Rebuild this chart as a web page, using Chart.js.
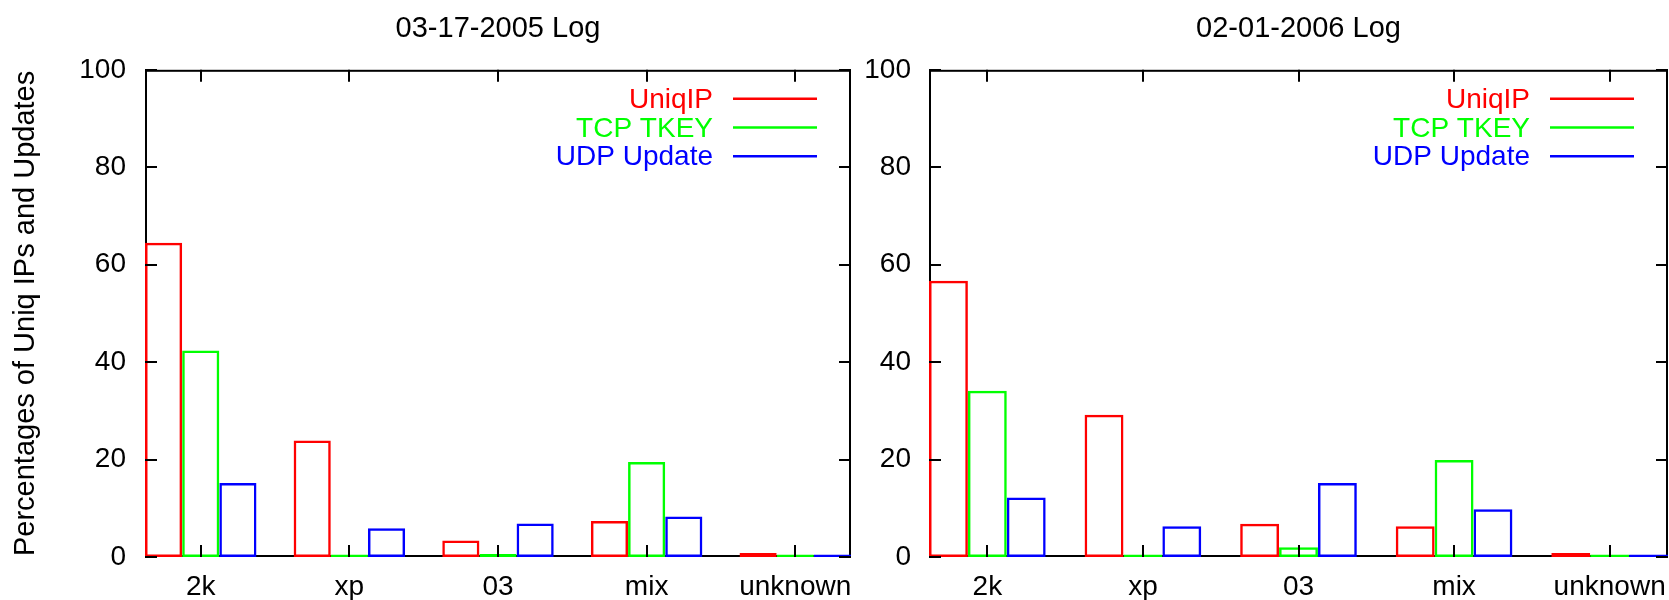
<!DOCTYPE html>
<html>
<head>
<meta charset="utf-8">
<script src="https://cdn.jsdelivr.net/npm/chart.js@4"></script>
<style>
  body { margin: 0; background: #fff; }
  .box { position: absolute; top: 0; height: 600px; }
  #left { left: 0; width: 855px; }
  #right { left: 855px; width: 814px; }
</style>
</head>
<body>
<div class="box" id="left"><canvas id="chartLeft"></canvas></div>
<div class="box" id="right"><canvas id="chartRight"></canvas></div>
<script>
// categories and tick labels
var categories = ['2k', 'xp', '03', 'mix', 'unknown'];
var yTickValues = [0, 20, 40, 60, 80, 100];
var seriesNames = ['UniqIP', 'TCP TKEY', 'UDP Update'];
var seriesColors = ['#ff0000', '#00ff00', '#0000ff'];

// 03-17-2005 log
var uniq2005 = [64.5, 23.9, 3.4, 7.4, 0.8];
var tkey2005 = [42.4, 0.2, 0.6, 19.5, 0.2];
var udp2005 = [15.2, 5.9, 6.9, 8.3, 0.1];

// 02-01-2006 log
var uniq2006 = [56.7, 29.2, 6.8, 6.3, 0.8];
var tkey2006 = [34.1, 0.2, 2.0, 19.9, 0.2];
var udp2006 = [12.2, 6.3, 15.2, 9.8, 0.1];

var FONT = "'Liberation Sans', Arial, sans-serif";

function points(values) {
  return values.map(function (v, i) { return { x: i, y: v }; });
}

// gnuplot style frame with ticks pointing inwards, plus the key
var framePlugin = {
  id: 'frame',
  beforeDatasetsDraw: function (chart) {
    var a = chart.chartArea, ctx = chart.ctx;
    ctx.save();
    ctx.strokeStyle = '#000';
    ctx.lineWidth = 2;
    ctx.strokeRect(a.left + 1, a.top + 1, a.right - a.left - 2, a.bottom - a.top - 2);
    ctx.restore();
  },
  afterDatasetsDraw: function (chart) {
    var a = chart.chartArea, ctx = chart.ctx;
    var xs = chart.scales.x, ys = chart.scales.y;
    var len = 12;
    ctx.save();
    ctx.strokeStyle = '#000';
    ctx.lineWidth = 2;
    ctx.beginPath();
    categories.forEach(function (c, i) {
      var px = Math.round(xs.getPixelForValue(i));
      ctx.moveTo(px, a.bottom); ctx.lineTo(px, a.bottom - len);
      ctx.moveTo(px, a.top); ctx.lineTo(px, a.top + len);
    });
    yTickValues.forEach(function (v) {
      var py = Math.round(ys.getPixelForValue(v));
      ctx.moveTo(a.left, py); ctx.lineTo(a.left + len, py);
      ctx.moveTo(a.right, py); ctx.lineTo(a.right - len, py);
    });
    ctx.stroke();

    // key
    ctx.font = '28px ' + FONT;
    ctx.textAlign = 'right';
    ctx.textBaseline = 'middle';
    chart.data.datasets.forEach(function (ds, i) {
      var y = a.top + 29 + i * 28.7;
      ctx.fillStyle = ds.borderColor;
      ctx.fillText(ds.label, a.right - 138, y + 1.5);
      ctx.strokeStyle = ds.borderColor;
      ctx.lineWidth = 2.5;
      ctx.beginPath();
      ctx.moveTo(a.right - 118, y);
      ctx.lineTo(a.right - 34, y);
      ctx.stroke();
    });
    ctx.restore();
  }
};

function makeChart(id, title, series, opts) {
  return new Chart(document.getElementById(id), {
    type: 'bar',
    data: {
      datasets: series.map(function (vals, i) {
        return {
          label: seriesNames[i],
          data: points(vals),
          borderColor: seriesColors[i],
          backgroundColor: 'rgba(0,0,0,0)',
          borderWidth: 2.5,
          borderSkipped: false,
          minBarLength: 2.5
        };
      })
    },
    options: {
      responsive: true,
      maintainAspectRatio: false,
      animation: false,
      events: [],
      categoryPercentage: 0.75,
      barPercentage: 1.0,
      layout: { padding: { left: 0, right: opts.padRight, top: 0, bottom: 0 } },
      plugins: {
        legend: { display: false },
        tooltip: { enabled: false },
        title: {
          display: true,
          text: title,
          fullSize: false,
          color: '#000',
          font: { family: FONT, size: 29, weight: 'normal' },
          padding: { top: 12, bottom: 23 }
        }
      },
      scales: {
        x: {
          type: 'linear',
          offset: false,
          min: -0.375,
          max: categories.length - 1 + 0.375,
          grid: { display: false, drawTicks: false, tickLength: 0 },
          border: { display: false },
          afterBuildTicks: function (s) {
            s.ticks = categories.map(function (c, i) { return { value: i }; });
          },
          afterFit: function (s) {
            s.height = 43;
            s.paddingLeft = 0;
            s.paddingRight = 0;
          },
          ticks: {
            padding: 13,
            color: '#000',
            font: { family: FONT, size: 28 },
            maxRotation: 0,
            autoSkip: false,
            callback: function (v) { return categories[v]; }
          }
        },
        y: {
          min: 0,
          max: 100,
          grid: { display: false, drawTicks: false, tickLength: 0 },
          border: { display: false },
          afterBuildTicks: function (s) {
            s.ticks = yTickValues.map(function (v) { return { value: v }; });
          },
          afterFit: function (s) {
            s.width = opts.yWidth;
            s.paddingTop = 0;
            s.paddingBottom = 0;
          },
          ticks: {
            padding: opts.yPad,
            color: '#000',
            font: { family: FONT, size: 28 }
          },
          title: {
            display: opts.yTitle !== '',
            text: opts.yTitle,
            color: '#000',
            font: { family: FONT, size: 29 },
            padding: { top: 9, bottom: 0 }
          }
        }
      }
    },
    plugins: [framePlugin]
  });
}

makeChart('chartLeft', '03-17-2005 Log', [uniq2005, tkey2005, udp2005],
  { padRight: 4, yWidth: 145, yPad: 19, yTitle: 'Percentages of Uniq IPs and Updates' });
makeChart('chartRight', '02-01-2006 Log', [uniq2006, tkey2006, udp2006],
  { padRight: 1, yWidth: 74, yPad: 18, yTitle: '' });
</script>
</body>
</html>
